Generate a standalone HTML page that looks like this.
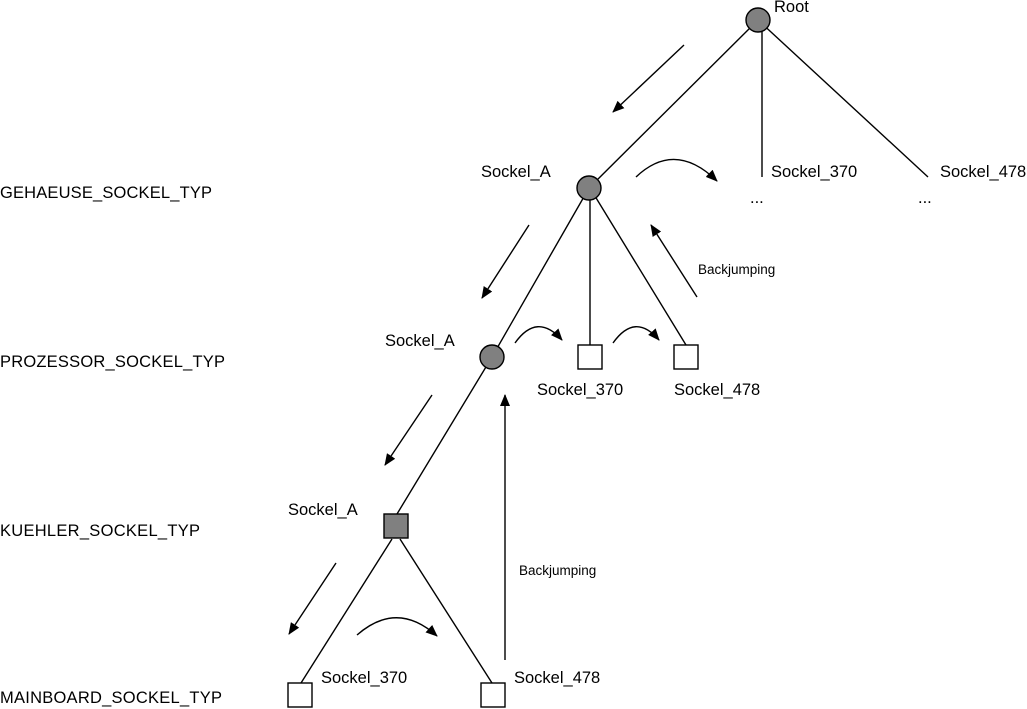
<!DOCTYPE html>
<html><head><meta charset="utf-8"><style>body{margin:0;background:#fff}svg{display:block}</style></head><body>
<svg width="1027" height="709" viewBox="0 0 1027 709" xmlns="http://www.w3.org/2000/svg" font-family="Liberation Sans, sans-serif">
<defs><marker id="a" markerWidth="12" markerHeight="10" refX="11" refY="5" orient="auto" markerUnits="userSpaceOnUse"><path d="M0,0 L12,5 L0,10 z" fill="#000"/></marker></defs>
<g stroke="#000" stroke-width="1.4" fill="none">
<line x1="758" y1="20" x2="589" y2="188"/>
<line x1="762" y1="20" x2="762" y2="177"/>
<line x1="758" y1="20" x2="928" y2="177"/>
<line x1="589" y1="188" x2="492" y2="357"/>
<line x1="590" y1="188" x2="590" y2="345"/>
<line x1="590" y1="188" x2="686" y2="345"/>
<line x1="492" y1="357" x2="397" y2="514"/>
<line x1="392" y1="539" x2="301" y2="683"/>
<line x1="400" y1="539" x2="492" y2="683"/>
<line x1="684" y1="45" x2="613" y2="112" marker-end="url(#a)"/>
<line x1="529" y1="225" x2="482" y2="298" marker-end="url(#a)"/>
<line x1="697" y1="297" x2="651" y2="225" marker-end="url(#a)"/>
<line x1="432" y1="395" x2="385" y2="465" marker-end="url(#a)"/>
<line x1="505" y1="660" x2="505" y2="395" marker-end="url(#a)"/>
<line x1="336" y1="563" x2="289" y2="634" marker-end="url(#a)"/>
<path d="M636,177 Q675,140 717,181" marker-end="url(#a)"/>
<path d="M515,343 Q537,312 562,340" marker-end="url(#a)"/>
<path d="M613,343 Q635,312 659,340" marker-end="url(#a)"/>
<path d="M357,635 Q397,600 437,636" marker-end="url(#a)"/>
</g>
<g stroke="#000" stroke-width="1.4">
<circle cx="758" cy="20" r="12" fill="#808080"/>
<circle cx="589" cy="188" r="12" fill="#808080"/>
<circle cx="492" cy="357" r="12" fill="#808080"/>
<rect x="578" y="345" width="24" height="24" fill="#fff"/>
<rect x="674" y="345" width="24" height="24" fill="#fff"/>
<rect x="384" y="514" width="24" height="24" fill="#808080"/>
<rect x="288" y="683" width="24" height="24" fill="#fff"/>
<rect x="481" y="683" width="24" height="24" fill="#fff"/>
</g>
<g font-size="16.5" fill="#000">
<text x="774" y="12">Root</text>
<text x="481" y="177">Sockel_A</text>
<text x="771" y="177">Sockel_370</text>
<text x="940" y="177">Sockel_478</text>
<text x="750" y="203">...</text>
<text x="918" y="203">...</text>
<text x="385" y="346">Sockel_A</text>
<text x="537" y="395">Sockel_370</text>
<text x="674" y="395">Sockel_478</text>
<text x="288" y="515">Sockel_A</text>
<text x="321" y="683">Sockel_370</text>
<text x="514" y="683">Sockel_478</text>
<text x="0" y="198" textLength="212">GEHAEUSE_SOCKEL_TYP</text>
<text x="0" y="367" textLength="225">PROZESSOR_SOCKEL_TYP</text>
<text x="0" y="536" textLength="200">KUEHLER_SOCKEL_TYP</text>
<text x="0" y="703" textLength="222">MAINBOARD_SOCKEL_TYP</text>
</g>
<g font-size="13.5" fill="#000">
<text x="698" y="274">Backjumping</text>
<text x="519" y="575">Backjumping</text>
</g>
</svg>
</body></html>
